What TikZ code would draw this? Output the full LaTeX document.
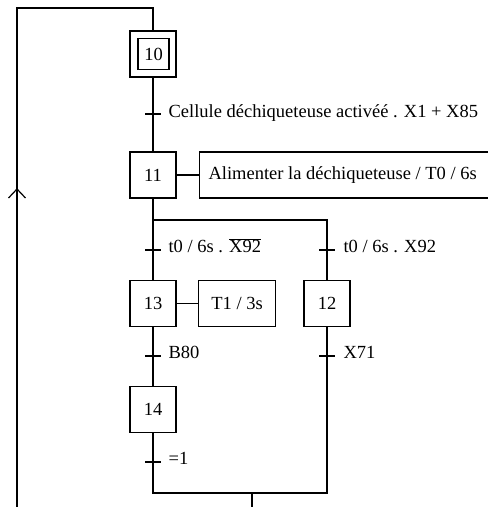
\documentclass[tikz,border=0pt]{standalone}
\usepackage{fontspec}
\setmainfont{Liberation Serif}
\begin{document}
\begin{tikzpicture}[x=1pt,y=-1pt,line width=1.2pt,
  font=\fontsize{18.5}{22}\selectfont,
  stepbox/.style={draw,minimum width=46pt,minimum height=46pt,inner sep=0pt},
  innerbox/.style={draw,minimum width=31pt,minimum height=31pt,inner sep=0pt},
  actbox/.style={draw,minimum height=46pt,inner sep=0pt,anchor=west},
  lbl/.style={anchor=base west,inner sep=0pt}]
\useasboundingbox (0,0) rectangle (488,507);

% steps
\node[stepbox] (s10) at (153,54) {};
\node[innerbox] (s10i) at (153.5,54) {10};
\node[stepbox] (s11) at (153,175) {11};
\node[stepbox] (s13) at (153,303.5) {13};
\node[stepbox] (s12) at (327,303.5) {12};
\node[stepbox] (s14) at (153,409.5) {14};

% actions
\node[actbox,minimum width=290pt] (a11) at (199,175) {\makebox[272pt][l]{Alimenter la déchiqueteuse / T0 / 6s}};
\node[actbox,minimum width=77pt] (a13) at (198,303.5) {T1 / 3s};
\draw (s11.east) -- (a11.west);
\draw (s13.east) -- (a13.west);

% junction coordinates
\coordinate (div) at (153,220);
\coordinate (divr) at (327,220);
\coordinate (conv) at (153,493);
\coordinate (convr) at (327,493);
\coordinate (convm) at (252,493);
\coordinate (bm) at (252,508);
\coordinate (bl) at (17,508);
\coordinate (tl) at (17,8);
\coordinate (tm) at (153,8);

% links
\draw (s10.south) -- (s11.north);
\draw (s11.south) -- (div) -- (divr) -- (s12.north);
\draw (div) -- (s13.north);
\draw (s13.south) -- (s14.north);
\draw (s14.south) -- (conv) -- (convr) -- (s12.south);
\draw (convm) -- (bm) -- (bl) -- (tl) -- (tm) -- (s10.north);

% return arrow
\coordinate (ar) at (17,189);
\draw ([shift={(-8.5,9)}]ar) -- (ar) -- ([shift={(8.5,9)}]ar);

% transitions
\coordinate (t1) at (153,114);
\coordinate (t2) at (153,250);
\coordinate (t3) at (327,250);
\coordinate (t4) at (153,356);
\coordinate (t5) at (327,356);
\coordinate (t6) at (153,462);
\foreach \t in {t1,t2,t3,t4,t5,t6}
  \draw ([xshift=-8pt]\t) -- ([xshift=8pt]\t);

\node[lbl] (l1) at ([xshift=15pt,yshift=-3pt]t1) {Cellule déchiqueteuse activéé . X1 + X85};
\node[lbl] (l2) at ([xshift=15pt,yshift=-2.5pt]t2) {t0 / 6s . $\overline{\mbox{X92}}$};
\node[lbl] (l3) at ([xshift=16pt,yshift=-2.5pt]t3) {t0 / 6s . X92};
\node[lbl] (l4) at ([xshift=15pt,yshift=-2.5pt]t4) {B80};
\node[lbl] (l5) at ([xshift=16pt,yshift=-2.5pt]t5) {X71};
\node[lbl] (l6) at ([xshift=15pt,yshift=-2.5pt]t6) {=1};
\end{tikzpicture}
\end{document}
